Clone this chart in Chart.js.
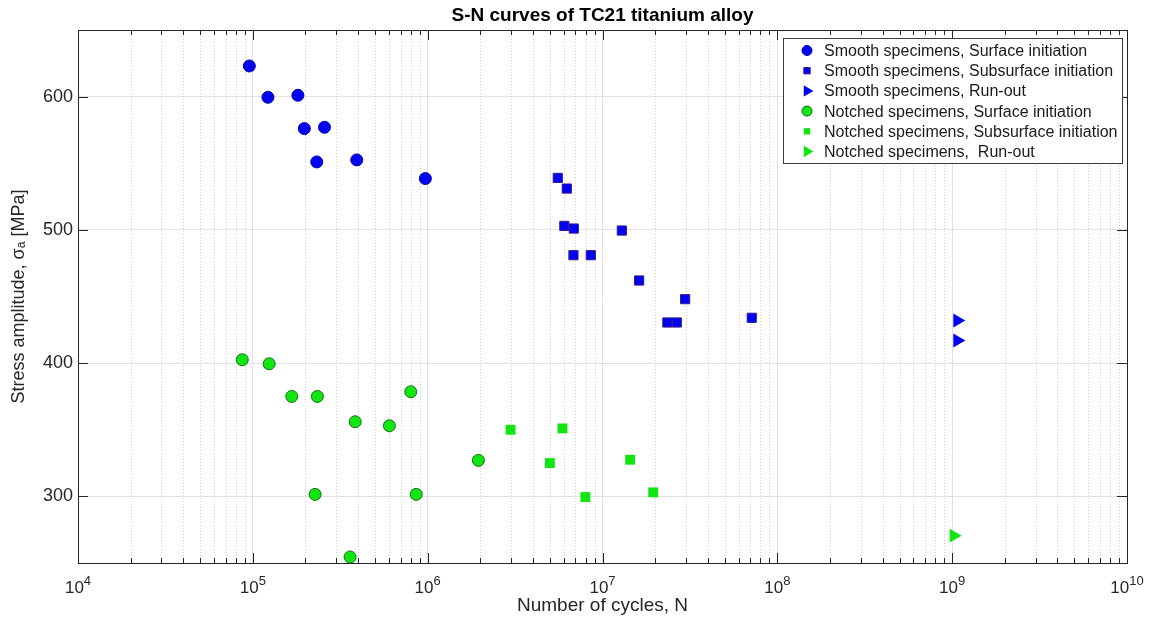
<!DOCTYPE html>
<html>
<head>
<meta charset="utf-8">
<script src="https://cdn.jsdelivr.net/npm/chart.js@4/dist/chart.umd.min.js"></script>
<style>
  html, body { margin: 0; padding: 0; background: #fff; }
</style>
</head>
<body>
<canvas id="sn" width="1151" height="626"></canvas>
<script>
// Smooth specimens
const smoothSurfN = [9.55e4, 1.22e5, 1.81e5, 1.97e5, 2.57e5, 2.32e5, 3.93e5, 9.7e5];
const smoothSurfS = [623, 599.5, 601, 576, 577, 551, 552.5, 538.5];
const smoothSubN = [5.55e6, 6.25e6, 6.05e6, 6.85e6, 1.29e7, 6.82e6, 8.57e6, 1.62e7, 2.97e7, 2.35e7, 2.66e7, 7.14e7];
const smoothSubS = [539, 531, 503, 501, 499.5, 481, 481, 462, 448, 430.5, 430.5, 434];
const smoothRunN = [1.07e9, 1.07e9];
const smoothRunS = [432, 417];

// Notched specimens
const notchSurfN = [8.7e4, 1.24e5, 1.67e5, 2.34e5, 8.0e5, 3.85e5, 6.04e5, 2.27e5, 8.6e5, 3.6e5, 1.95e6];
const notchSurfS = [402.5, 399.5, 375, 375, 378.5, 356, 353, 301.5, 301.5, 254.5, 327];
const notchSubN = [2.98e6, 5.9e6, 5.0e6, 7.98e6, 1.44e7, 1.95e7];
const notchSubS = [350, 351, 325, 299.5, 327.5, 303];
const notchRunN = [1.02e9];
const notchRunS = [270.5];

const xTicks = [1e4, 1e5, 1e6, 1e7, 1e8, 1e9, 1e10];
const yTicks = [300, 400, 500, 600];

const FONT = "'Liberation Sans', Arial, Helvetica, sans-serif";
const INK = "#262626";
const BLUE = "#0000f2";
const GREEN = "#12e612";

const pts = (xs, ys) => xs.map((x, i) => ({ x: x, y: ys[i] }));

const series = [
  { label: "Smooth specimens, Surface initiation", data: pts(smoothSurfN, smoothSurfS),
    pointStyle: "circle", pointRadius: 6, backgroundColor: BLUE, borderColor: "#0000b0", borderWidth: 1 },
  { label: "Smooth specimens, Subsurface initiation", data: pts(smoothSubN, smoothSubS),
    pointStyle: "rect", pointRadius: 6.5, backgroundColor: BLUE, borderColor: "#3a1a8a", borderWidth: 1 },
  { label: "Smooth specimens, Run-out", data: pts(smoothRunN, smoothRunS),
    pointStyle: "triangle", rotation: 90, pointRadius: 8, backgroundColor: BLUE, borderColor: BLUE, borderWidth: 0 },
  { label: "Notched specimens, Surface initiation", data: pts(notchSurfN, notchSurfS),
    pointStyle: "circle", pointRadius: 6, backgroundColor: GREEN, borderColor: "#0f6f0f", borderWidth: 1 },
  { label: "Notched specimens, Subsurface initiation", data: pts(notchSubN, notchSubS),
    pointStyle: "rect", pointRadius: 7, backgroundColor: GREEN, borderColor: GREEN, borderWidth: 0 },
  { label: "Notched specimens,  Run-out", data: pts(notchRunN, notchRunS),
    pointStyle: "triangle", rotation: 90, pointRadius: 8, backgroundColor: GREEN, borderColor: GREEN, borderWidth: 0 }
];

// minor dotted grid, inward tick marks and the axes box
const axesBox = {
  id: "axesBox",
  beforeDatasetsDraw(chart) {
    const { ctx, chartArea: a, scales: { x, y } } = chart;
    ctx.save();
    ctx.lineWidth = 1;
    ctx.strokeStyle = "#cfcfcf";
    ctx.setLineDash([1, 2]);
    for (let k = 4; k < 10; k++) {
      for (let m = 2; m <= 9; m++) {
        const px = Math.round(x.getPixelForValue(m * Math.pow(10, k))) + 0.5;
        ctx.beginPath(); ctx.moveTo(px, a.top); ctx.lineTo(px, a.bottom); ctx.stroke();
      }
    }
    ctx.setLineDash([]);
    ctx.strokeStyle = INK;
    for (let k = 4; k <= 10; k++) {
      for (let m = 1; m <= 9; m++) {
        const v = m * Math.pow(10, k);
        if (v > 1e10) break;
        const px = Math.round(x.getPixelForValue(v)) + 0.5;
        const len = m === 1 ? 10 : 5;
        ctx.beginPath();
        ctx.moveTo(px, a.bottom); ctx.lineTo(px, a.bottom - len);
        ctx.moveTo(px, a.top); ctx.lineTo(px, a.top + len);
        ctx.stroke();
      }
    }
    yTicks.forEach(v => {
      const py = Math.round(y.getPixelForValue(v)) + 0.5;
      ctx.beginPath();
      ctx.moveTo(a.left, py); ctx.lineTo(a.left + 10, py);
      ctx.moveTo(a.right, py); ctx.lineTo(a.right - 10, py);
      ctx.stroke();
    });
    ctx.strokeRect(Math.round(a.left) + 0.5, Math.round(a.top) + 0.5,
      Math.round(a.right - a.left), Math.round(a.bottom - a.top));
    ctx.restore();
  },
  // power-of-ten labels under the x axis, exponent raised
  afterDraw(chart) {
    const { ctx, chartArea: a, scales: { x } } = chart;
    ctx.save();
    ctx.fillStyle = INK;
    ctx.textBaseline = "alphabetic";
    ctx.textAlign = "left";
    xTicks.forEach(v => {
      const base = "10", exp = String(Math.round(Math.log10(v)));
      ctx.font = "17px " + FONT;
      const wb = ctx.measureText(base).width;
      ctx.font = "13px " + FONT;
      const we = ctx.measureText(exp).width;
      const left = x.getPixelForValue(v) - (wb + we) / 2;
      const baseY = a.bottom + 30;
      ctx.font = "17px " + FONT;
      ctx.fillText(base, left, baseY);
      ctx.font = "13px " + FONT;
      ctx.fillText(exp, left + wb, baseY - 8);
    });
    ctx.restore();
  }
};

// legend box in the upper right corner of the axes
const boxLegend = {
  id: "boxLegend",
  afterDatasetsDraw(chart) {
    const { ctx, chartArea: a } = chart;
    const w = 339, h = 125;
    const left = a.right - 5 - w, top = a.top + 8;
    ctx.save();
    ctx.fillStyle = "#fff";
    ctx.fillRect(left, top, w, h);
    ctx.strokeStyle = "#3c3c3c";
    ctx.lineWidth = 1;
    ctx.strokeRect(Math.round(left) + 0.5, Math.round(top) + 0.5, w, h);
    ctx.font = "16px " + FONT;
    ctx.textBaseline = "middle";
    chart.data.datasets.forEach((ds, i) => {
      const cy = top + 12.5 + i * 20.2;
      const r = ds.pointStyle === "circle" ? 5 : ds.pointStyle === "rect" ? 4.5 : 6.5;
      ctx.fillStyle = ds.backgroundColor;
      ctx.strokeStyle = ds.borderColor;
      ctx.lineWidth = ds.borderWidth;
      Chart.helpers.drawPoint(ctx, { pointStyle: ds.pointStyle, rotation: ds.rotation || 0,
        radius: r, borderWidth: ds.borderWidth }, left + 24, cy);
      ctx.fillStyle = "#1a1a1a";
      ctx.fillText(ds.label, left + 41, cy + 1);
    });
    ctx.restore();
  }
};

new Chart(document.getElementById("sn"), {
  type: "scatter",
  data: { datasets: series.map(s => Object.assign({ clip: false, pointHoverRadius: s.pointRadius }, s)) },
  options: {
    responsive: false,
    devicePixelRatio: 1,
    animation: false,
    layout: { padding: { left: 0, right: 24, top: 0, bottom: 0 } },
    plugins: {
      legend: { display: false },
      tooltip: { enabled: false },
      title: {
        display: true,
        fullSize: false,
        text: "S-N curves of TC21 titanium alloy",
        color: "#000",
        font: { family: FONT, size: 19, weight: "bold", lineHeight: 1.2 },
        padding: { top: 4, bottom: 3.2 }
      }
    },
    scales: {
      x: {
        type: "logarithmic",
        min: 1e4,
        max: 1e10,
        afterBuildTicks: s => { s.ticks = xTicks.map(v => ({ value: v, major: true })); },
        afterFit: s => { s.height = 63; },
        grid: { color: "#e2e2e2", drawTicks: false },
        border: { display: false },
        ticks: { display: false },
        title: {
          display: true, text: "Number of cycles, N", color: INK,
          font: { family: FONT, size: 19 }, padding: { top: 0, bottom: 9 }
        }
      },
      y: {
        min: 250,
        max: 650,
        afterBuildTicks: s => { s.ticks = yTicks.map(v => ({ value: v })); },
        afterFit: s => { s.width = 78; },
        grid: { color: "#e2e2e2", drawTicks: false },
        border: { display: false },
        ticks: { padding: 5, color: INK, font: { family: FONT, size: 18 } },
        title: {
          display: true, text: "Stress amplitude, σₐ [MPa]", color: INK,
          font: { family: FONT, size: 18 }, padding: { top: 8, bottom: 0 }
        }
      }
    }
  },
  plugins: [axesBox, boxLegend]
});
</script>
</body>
</html>
